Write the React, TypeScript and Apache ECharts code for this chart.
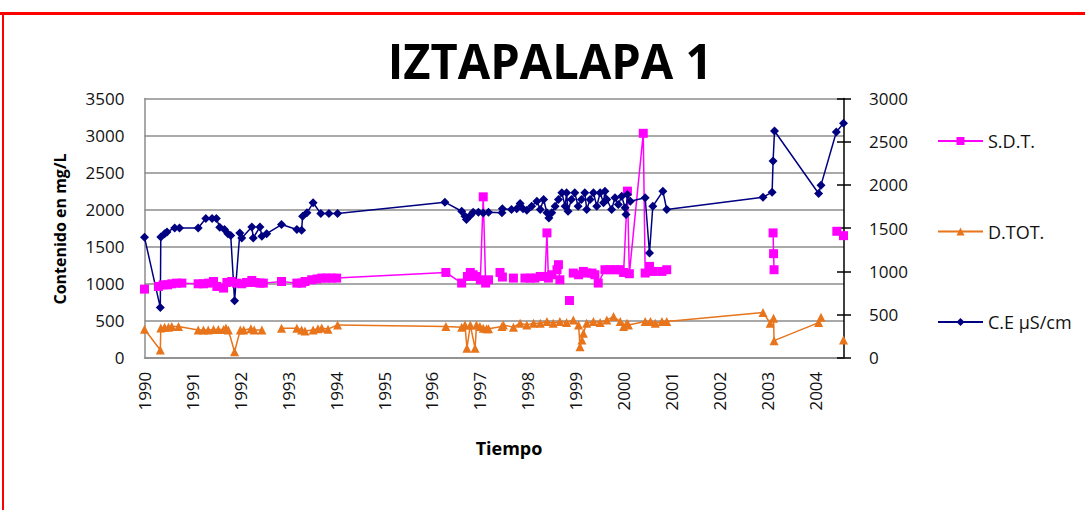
import React, { useEffect, useRef } from "react";
import * as echarts from "echarts";

// Conductividad eléctrica (µS/cm), eje derecho
const ceYears = [
  1990.0, 1990.33, 1990.34, 1990.42, 1990.47, 1990.63, 1990.73, 1991.12, 1991.28, 1991.41,
  1991.5, 1991.57, 1991.67, 1991.74, 1991.8, 1991.88, 1991.99, 1992.03, 1992.24, 1992.27,
  1992.41, 1992.45, 1992.55, 1992.86, 1993.18, 1993.28, 1993.3, 1993.39, 1993.52, 1993.68,
  1993.85, 1994.03, 1996.27, 1996.62, 1996.69, 1996.72, 1996.8, 1996.86, 1996.97, 1997.07,
  1997.18, 1997.46, 1997.47, 1997.66, 1997.77, 1997.84, 1997.9, 1997.98, 1998.08, 1998.19,
  1998.26, 1998.33, 1998.4, 1998.44, 1998.5, 1998.57, 1998.64, 1998.71, 1998.78, 1998.81,
  1998.84, 1998.91, 1998.98, 1999.05, 1999.12, 1999.19, 1999.23, 1999.3, 1999.37, 1999.44,
  1999.51, 1999.58, 1999.61, 1999.65, 1999.75, 1999.82, 1999.89, 1999.96, 2000.03, 2000.05,
  2000.08, 2000.14, 2000.45, 2000.54, 2000.61, 2000.82, 2000.9, 2002.91, 2003.1, 2003.12,
  2003.15, 2004.07, 2004.12, 2004.44, 2004.59,
];
const ceValues = [
  1393, 580, 1398, 1436, 1456, 1502, 1502, 1502, 1610, 1610,
  1610, 1509, 1483, 1436, 1413, 658, 1444, 1386, 1514, 1386,
  1514, 1405, 1436, 1541, 1483, 1475, 1637, 1677, 1793, 1668,
  1668, 1668, 1800, 1695, 1637, 1599, 1645, 1683, 1683, 1675,
  1683, 1677, 1723, 1715, 1723, 1784, 1723, 1707, 1753, 1811,
  1715, 1831, 1677, 1618, 1677, 1753, 1831, 1909, 1753, 1909,
  1695, 1831, 1909, 1753, 1831, 1909, 1715, 1831, 1909, 1753,
  1909, 1793, 1927, 1831, 1715, 1851, 1773, 1869, 1735, 1657,
  1889, 1811, 1851, 1212, 1753, 1927, 1715, 1858, 1916, 2276,
  2624, 1901, 1997, 2612, 2713,
];

// Sólidos disueltos totales (mg/L); null = sin dato (corta la línea)
const sdtYears = [
  1990.0, 1990.1, 1990.29, 1990.39, 1990.48, 1990.57, 1990.67, 1990.78, 1991.12, 1991.23,
  1991.33, 1991.44, 1991.51, 1991.65, 1991.72, 1991.82, 1991.92, 1992.03, 1992.13, 1992.24,
  1992.31, 1992.41, 1992.48, 1992.86, 1993.18, 1993.28, 1993.35, 1993.49, 1993.6, 1993.7,
  1993.8, 1993.91, 1994.01, 1996.29, 1996.62, 1996.74, 1996.8, 1996.86, 1996.93, 1997.01,
  1997.07, 1997.12, 1997.18, 1997.3, 1997.42, 1997.47, 1997.6, 1997.7, 1997.8, 1997.94,
  1998.05, 1998.15, 1998.26, 1998.36, 1998.4, 1998.43, 1998.5, 1998.61, 1998.64, 1998.67,
  1998.78, 1998.87, 1998.9, 1998.95, 1999.06, 1999.16, 1999.23, 1999.34, 1999.4, 1999.47,
  1999.61, 1999.72, 1999.82, 1999.92, 2000.0, 2000.08, 2000.12, 2000.41, 2000.45, 2000.54,
  2000.62, 2000.8, 2000.9, 2002.0, 2003.12, 2003.13, 2003.14, 2003.8, 2004.45, 2004.59,
];
const sdtValues = [
  926, null, 962, 984, 984, 998, 1007, 1007, 998, 998,
  1007, 1029, 962, 940, 1016, 1029, 1007, 998, 1016, 1043,
  1016, 1007, 1007, 1029, 1007, 1007, 1029, 1052, 1063, 1075,
  1075, 1075, 1075, 1151, 1008, 1097, 1151, 1120, 1097, 1052,
  2172, 1008, 1052, null, 1151, 1089, null, 1075, null, 1075,
  1075, 1075, 1097, 1097, 1685, 1075, 1120, 1188, 1256, 1052,
  null, 772, null, 1143, 1120, 1165, 1143, 1143, 1120, 1008,
  1188, 1188, 1188, 1188, 1151, 2249, 1134, 3030, 1143, 1233,
  1165, 1165, 1188, null, 1685, 1405, 1188, null, 1707, 1648,
];

// Dureza total (mg/L)
const dtotYears = [
  1990.0, 1990.33, 1990.34, 1990.42, 1990.5, 1990.57, 1990.71, 1991.12, 1991.23, 1991.33,
  1991.44, 1991.54, 1991.65, 1991.7, 1991.75, 1991.88, 1992.0, 1992.07, 1992.22, 1992.29,
  1992.45, 1992.6, 1992.86, 1993.18, 1993.28, 1993.35, 1993.52, 1993.62, 1993.7, 1993.83,
  1994.03, 1996.29, 1996.62, 1996.69, 1996.73, 1996.8, 1996.9, 1996.93, 1997.0, 1997.07,
  1997.14, 1997.18, 1997.46, 1997.49, 1997.7, 1997.84, 1997.98, 1998.12, 1998.26, 1998.4,
  1998.53, 1998.67, 1998.81, 1998.95, 1999.06, 1999.09, 1999.13, 1999.16, 1999.23, 1999.37,
  1999.51, 1999.65, 1999.79, 1999.93, 2000.0, 2000.07, 2000.1, 2000.45, 2000.56, 2000.66,
  2000.8, 2000.9, 2002.91, 2003.06, 2003.13, 2003.14, 2004.07, 2004.12, 2004.3, 2004.59,
];
const dtotValues = [
  385, 105, 400, 410, 410, 420, 420, 375, 375, 375,
  380, 380, 380, 400, 375, 81, 375, 375, 390, 375,
  375, null, 398, 398, 375, 360, 375, 390, 400, 385,
  443, 420, 410, 440, 127, 440, 127, 440, 420, 398,
  390, 390, 420, 443, 411, 466, 443, 466, 466, 488,
  466, 488, 474, 510, 443, 149, 240, 330, 466, 488,
  474, 510, 555, 488, 420, 466, 443, 488, 488, 466,
  488, 488, 610, 466, 534, 230, 474, 547, null, 240,
];

const yearTicks = [1990, 1991, 1992, 1993, 1994, 1995, 1996, 1997, 1998, 1999, 2000, 2001, 2002, 2003, 2004];

const pairs = (xs: number[], ys: (number | null)[]) =>
  xs.map((x, i) => [x, ys[i] === null ? "-" : ys[i]]);

const FONT = "'Open Sans', 'Liberation Sans', sans-serif";

export default function App() {
  const ref = useRef<HTMLDivElement>(null);

  useEffect(() => {
    if (!ref.current) return;
    const chart = echarts.init(ref.current, undefined, { renderer: "svg" });
    const gridColor = "#8c8c8c";
    const plain = (v: number) => String(v);

    chart.setOption({
      animation: false,
      backgroundColor: "#ffffff",
      grid: { left: 144.5, right: 241, top: 98.5, bottom: 152.3, containLabel: false },
      graphic: [
        { type: "rect", shape: { x: 0, y: 12, width: 1085, height: 3 }, style: { fill: "#ff0000" } },
        { type: "rect", shape: { x: 2, y: 12, width: 2, height: 500 }, style: { fill: "#ff0000" } },
        {
          type: "text",
          x: 550,
          y: 60,
          scaleX: 0.96,
          style: {
            text: "IZTAPALAPA 1",
            font: `bold 49px ${FONT}`,
            fill: "#000",
            textAlign: "center",
            textVerticalAlign: "middle",
          },
        },
        {
          type: "text",
          x: 60,
          y: 229,
          rotation: Math.PI / 2,
          style: {
            text: "Contenido en mg/L",
            font: `bold 16px ${FONT}`,
            fill: "#000",
            textAlign: "center",
            textVerticalAlign: "middle",
          },
        },
        {
          type: "text",
          x: 509,
          y: 448,
          style: {
            text: "Tiempo",
            font: `bold 18px ${FONT}`,
            fill: "#000",
            textAlign: "center",
            textVerticalAlign: "middle",
          },
        },
      ],
      legend: {
        orient: "vertical",
        left: 932,
        top: 127,
        itemWidth: 45,
        itemHeight: 10,
        itemGap: 72.5,
        textStyle: { fontFamily: FONT, fontSize: 18, color: "#111" },
        data: ["S.D.T.", "D.TOT.", "C.E µS/cm"],
      },
      xAxis: {
        type: "value",
        min: 1990,
        max: 2004.6,
        interval: 1,
        axisLine: { show: true, lineStyle: { color: gridColor, width: 1.5 } },
        axisTick: { show: false },
        splitLine: { show: false },
        axisLabel: {
          rotate: 90,
          margin: 14,
          fontFamily: FONT,
          fontSize: 17,
          color: "#111",
          showMaxLabel: false,
          formatter: (v: number) =>
            yearTicks.includes(Math.round(v)) && Math.abs(v - Math.round(v)) < 1e-6 ? String(Math.round(v)) : "",
        },
      },
      yAxis: [
        {
          type: "value",
          min: 0,
          max: 3500,
          interval: 500,
          position: "left",
          axisLine: { show: true, lineStyle: { color: gridColor, width: 1.5 } },
          axisTick: { show: false },
          splitLine: { show: true, lineStyle: { color: gridColor, width: 1.5 } },
          axisLabel: { margin: 20, fontFamily: FONT, fontSize: 17, color: "#111", formatter: plain },
        },
        {
          type: "value",
          min: 0,
          max: 3000,
          interval: 500,
          position: "right",
          axisLine: { show: true, lineStyle: { color: "#000", width: 1.5 } },
          axisTick: { show: true, inside: false, length: 7, lineStyle: { color: "#000", width: 1.5 } },
          splitLine: { show: false },
          axisLabel: { margin: 25, fontFamily: FONT, fontSize: 17, color: "#111", formatter: plain },
        },
        {
          type: "value",
          min: 0,
          max: 3000,
          interval: 500,
          position: "right",
          axisLine: { show: false },
          axisTick: { show: true, inside: true, length: 7, lineStyle: { color: "#000", width: 1.5 } },
          splitLine: { show: false },
          axisLabel: { show: false },
        },
      ],
      series: [
        {
          name: "S.D.T.",
          type: "line",
          yAxisIndex: 0,
          data: pairs(sdtYears, sdtValues),
          symbol: "rect",
          symbolSize: 9,
          showSymbol: true,
          connectNulls: false,
          itemStyle: { color: "#ff00ff" },
          lineStyle: { color: "#ff00ff", width: 1.5 },
        },
        {
          name: "D.TOT.",
          type: "line",
          yAxisIndex: 0,
          data: pairs(dtotYears, dtotValues),
          symbol: "triangle",
          symbolSize: 9,
          showSymbol: true,
          connectNulls: false,
          itemStyle: { color: "#e8741c" },
          lineStyle: { color: "#e8741c", width: 1.5 },
        },
        {
          name: "C.E µS/cm",
          type: "line",
          yAxisIndex: 1,
          data: pairs(ceYears, ceValues),
          symbol: "diamond",
          symbolSize: 9,
          showSymbol: true,
          itemStyle: { color: "#000080" },
          lineStyle: { color: "#000080", width: 1.5 },
        },
      ],
    });

    return () => chart.dispose();
  }, []);

  return (
    <div
      ref={ref}
      style={{ position: "fixed", left: 0, top: 0, width: 1085, height: 510, background: "#fff" }}
    />
  );
}
